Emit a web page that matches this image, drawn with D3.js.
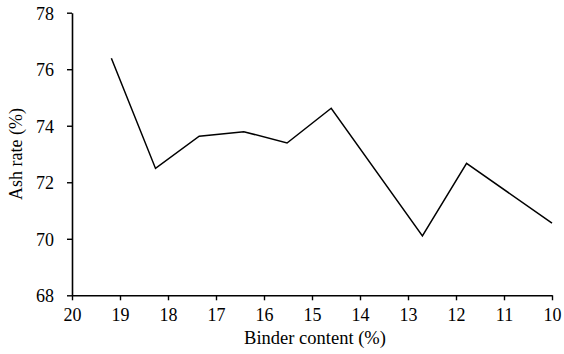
<!DOCTYPE html>
<html>
<head>
<meta charset="utf-8">
<script src="https://cdn.jsdelivr.net/npm/d3@7"></script>
<style>
  html, body { margin: 0; padding: 0; background: #fff; }
  svg { display: block; }
  text { font-family: "Liberation Serif", "Times New Roman", serif; fill: #000; }
</style>
</head>
<body>
<svg id="chart" width="564" height="354"></svg>
<script>
const binderContent = [19.18, 18.26, 17.35, 16.42, 15.52, 14.60, 12.70, 11.78, 10.00];
const ashRate       = [76.39, 72.49, 73.63, 73.79, 73.39, 74.62, 70.10, 72.67, 70.55];
const xTicks = [20, 19, 18, 17, 16, 15, 14, 13, 12, 11, 10];
const yTicks = [68, 70, 72, 74, 76, 78];

const svg = d3.select("#chart");
const margin = { left: 72, right: 12, top: 12.7, bottom: 58.7 };
const W = 564, H = 354;

const x = d3.scaleLinear().domain([20, 10]).range([margin.left, W - margin.right]);
const y = d3.scaleLinear().domain([68, 78]).range([H - margin.bottom, margin.top]);

const xAxis = svg.append("g")
  .attr("transform", `translate(0,${y(68)})`)
  .call(d3.axisBottom(x).tickValues(xTicks).tickFormat(d3.format("d")).tickSizeInner(5).tickSizeOuter(0).tickPadding(8));
const yAxis = svg.append("g")
  .attr("transform", `translate(${x(20)},0)`)
  .call(d3.axisLeft(y).tickValues(yTicks).tickFormat(d3.format("d")).tickSizeInner(5).tickSizeOuter(0).tickPadding(13));

[xAxis, yAxis].forEach(g => {
  g.select(".domain").attr("stroke", "#000").attr("stroke-width", 1.6);
  g.selectAll(".tick line").attr("stroke", "#000").attr("stroke-width", 1.4);
  g.selectAll(".tick text").style("font-family", '"Liberation Serif", "Times New Roman", serif')
    .style("font-size", "18px").attr("fill", "#000");
});
yAxis.selectAll(".tick text").attr("dy", "0.35em");
xAxis.selectAll(".tick text").attr("dy", "0.72em");

const line = d3.line().x((d, i) => x(binderContent[i])).y(d => y(d));
svg.append("path")
  .datum(ashRate)
  .attr("d", line)
  .attr("fill", "none")
  .attr("stroke", "#000")
  .attr("stroke-width", 1.5)
  .attr("stroke-linejoin", "miter");

svg.append("text")
  .attr("x", (x(20) + x(10)) / 2 + 3)
  .attr("y", 344)
  .attr("text-anchor", "middle")
  .style("font-size", "18.5px")
  .text("Binder content (%)");

svg.append("text")
  .attr("transform", `translate(22,${(y(68) + y(78)) / 2}) rotate(-90)`)
  .attr("text-anchor", "middle")
  .style("font-size", "18px")
  .text("Ash rate (%)");
</script>
</body>
</html>
